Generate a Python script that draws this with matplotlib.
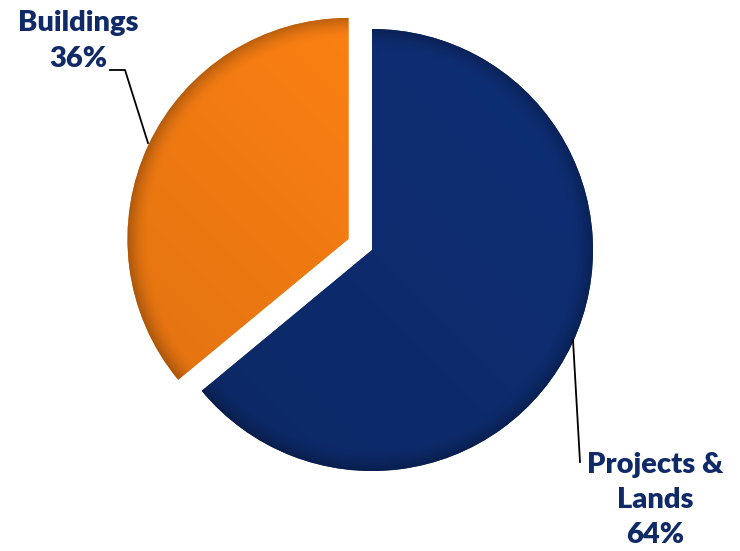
import matplotlib.pyplot as plt
import numpy as np
from matplotlib.colors import to_rgb

labels = ["Projects &\nLands", "Buildings"]
shares = [64, 36]
colors = ["#0d2b6d", "#f27b12"]
explode = [0, 26]  # pie offsets are in data units here

TEXT_COLOR = "#0f2a66"


def shade(ax, wedge, base, center, radius, extent):
    # soft bevel: darker near the rim, faint light from the upper left
    x0, x1, y0, y1 = extent
    xs = np.linspace(x0, x1, 400)
    ys = np.linspace(y1, y0, 400)
    X, Y = np.meshgrid(xs, ys)
    r = np.hypot(X - center[0], Y - center[1]) / radius
    rim = np.clip((r - 0.9) / 0.1, 0, 1) ** 1.8
    tilt = ((center[1] - Y) - (X - center[0])) / (2 * radius)
    k = 1.0 - 0.25 * rim - 0.08 * tilt
    rgb = np.clip(np.array(to_rgb(base))[None, None, :] * k[..., None], 0, 1)
    im = ax.imshow(rgb, extent=extent, origin="upper", zorder=2,
                   interpolation="bilinear")
    im.set_clip_path(wedge)


fig = plt.figure(figsize=(7.4, 5.51), dpi=100)
ax = fig.add_axes([0, 0, 1, 1])

center = (372, 301)
radius = 221
wedges, _ = ax.pie(shares, colors=colors, explode=explode, startangle=90,
                   counterclock=False, center=center, radius=radius,
                   frame=True, wedgeprops=dict(linewidth=0))
ax.set_xlim(0, 740)
ax.set_ylim(0, 551)
ax.set_aspect("equal")
ax.axis("off")

for w, c in zip(wedges, colors):
    cx, cy = w.center
    shade(ax, w, c, (cx, cy), radius,
          (cx - radius - 5, cx + radius + 5, cy - radius - 5, cy + radius + 5))

# leader lines and labels
ax.plot([110, 125, 148], [481, 481, 408], color="black", lw=1.3, zorder=3)
ax.plot([573, 580], [211, 89], color="black", lw=1.3, zorder=3)

font = dict(fontsize=21, fontweight="heavy", family="Lato",
            color=TEXT_COLOR, linespacing=1.45, ha="center", va="center")
ax.text(78, 510, f"{labels[1]}\n{shares[1]}%", **font)
ax.text(655, 51, f"{labels[0]}\n{shares[0]}%", **font)

fig.savefig("out.png", dpi=100)
